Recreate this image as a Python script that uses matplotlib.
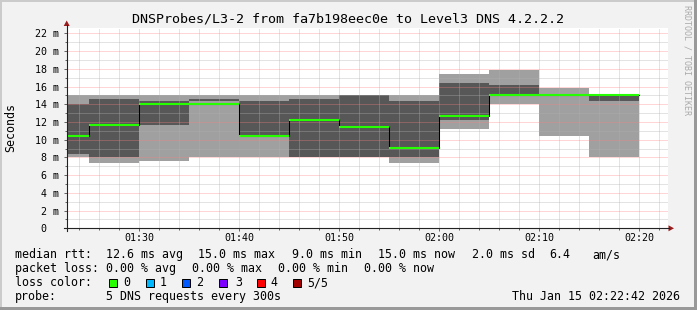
import pandas as pd
import matplotlib
matplotlib.use('Agg')
import matplotlib.pyplot as plt
import matplotlib.dates as mdates
from matplotlib.lines import Line2D
from matplotlib.patches import Rectangle, Polygon
from matplotlib.ticker import MultipleLocator, FuncFormatter

# 5 minute bins, 5 DNS pings per bin (values in ms, sorted pings)
bin_start = ['01:20', '01:25', '01:30', '01:35', '01:40', '01:45',
             '01:50', '01:55', '02:00', '02:05', '02:10', '02:15']
ping_min = [8.1, 7.4, 7.65, 8.1, 8.1, 8.05, 8.05, 7.4, 11.2, 14.0, 10.4, 8.05]
ping_2nd = [8.4, 8.05, 11.65, 14.35, 10.45, 8.05, 8.05, 8.05, 12.2, 15.0, 15.0, 14.35]
ping_median = [10.45, 11.65, 14.05, 14.05, 10.45, 12.25, 11.45, 9.05, 12.65, 15.05, 15.05, 15.05]
ping_4th = [14.0, 14.6, 14.35, 14.6, 14.35, 14.6, 15.0, 14.4, 16.4, 16.15, 15.05, 15.05]
ping_max = [15.0, 15.0, 15.0, 15.0, 15.0, 15.0, 15.0, 15.0, 17.4, 17.85, 15.85, 15.05]

loss_labels = ['0', '1', '2', '3', '4', '5/5']
loss_colors = ['#26ff00', '#00b8ff', '#0059ff', '#7e00ff', '#ff0000', '#a10000']

title = 'DNSProbes/L3-2 from fa7b198eec0e to Level3 DNS 4.2.2.2'
stamp = 'Thu Jan 15 02:22:42 2026'

W, H = 697, 310


def fx(x):
    return x / W


def fy(y):
    return 1 - y / H


def plot_smokeping():
    plt.rcParams['font.family'] = ['DejaVu Sans Mono']

    fig = plt.figure(figsize=(W / 100, H / 100), dpi=100, facecolor='#f2f2f2')
    ax = fig.add_axes([fx(66.7), fy(228.3), (668.3 - 66.7) / W, (228.3 - 27.7) / H])
    ax.set_facecolor('white')

    x = mdates.date2num(pd.to_datetime(['2026-01-15 ' + s for s in bin_start]))
    w = 5 / 1440

    lo = pd.Series(ping_min)
    hi = pd.Series(ping_max)
    p2 = pd.Series(ping_2nd)
    p4 = pd.Series(ping_4th)

    # smoke: outer band min..max, inner band 2nd..4th
    ax.bar(x, hi - lo, width=w, bottom=lo, align='edge', color='#a0a0a0', linewidth=0, zorder=1)
    ax.bar(x, p4 - p2, width=w, bottom=p2, align='edge', color='#575757', linewidth=0, zorder=1.1)

    # median: black step connectors + green segments (0 loss)
    xs = list(x) + [x[-1] + w]
    ys = ping_median + [ping_median[-1]]
    ax.step(xs, ys, where='post', color='black', linewidth=0.75, zorder=3)
    ax.hlines(ping_median, x, x + w, colors=loss_colors[0], linewidth=1.5, zorder=4)

    t0 = mdates.date2num(pd.Timestamp('2026-01-15 01:22:44'))
    t1 = mdates.date2num(pd.Timestamp('2026-01-15 02:22:54'))
    ax.set_xlim(t0, t1)
    ax.set_ylim(0, 22.64)

    ax.xaxis.set_major_locator(mdates.MinuteLocator(byminute=range(0, 60, 10)))
    ax.xaxis.set_minor_locator(mdates.MinuteLocator(byminute=range(0, 60, 2)))
    ax.xaxis.set_major_formatter(mdates.DateFormatter('%H:%M'))
    ax.yaxis.set_major_locator(MultipleLocator(2))
    ax.yaxis.set_minor_locator(MultipleLocator(1))
    ax.yaxis.set_major_formatter(FuncFormatter(
        lambda v, p: '0\u00a0\u00a0' if v == 0 else f'{v:.0f} m'))

    # dotted grid on top of the smoke, like rrdtool
    ax.set_axisbelow(False)
    ax.grid(which='major', color='#ff8080', alpha=0.65, linestyle=(0, (1, 1)), linewidth=0.72)
    ax.grid(which='minor', color='#b0b0b0', alpha=0.7, linestyle=(0, (1, 1)), linewidth=0.72)

    for s in ax.spines.values():
        s.set_visible(False)
    ax.tick_params(which='both', direction='out', color='#666666', labelsize=7.2)
    ax.tick_params(which='major', length=2.2, width=0.72)
    ax.tick_params(which='minor', length=1.5, width=0.72)
    ax.tick_params(axis='x', which='major', pad=1.0)
    ax.tick_params(axis='y', which='major', pad=3.0)

    # axis lines with arrows
    axis_c = '#222222'
    arrow_c = '#9b1c1c'
    fig.add_artist(Line2D([fx(66.7), fx(66.7)], [fy(231), fy(25)], color=axis_c, lw=0.8))
    fig.add_artist(Line2D([fx(63.5), fx(669)], [fy(228.3), fy(228.3)], color=axis_c, lw=0.8))
    fig.add_artist(Polygon([(fx(66.7), fy(20.5)), (fx(63.7), fy(26)), (fx(69.7), fy(26))],
                           closed=True, transform=fig.transFigure, color=arrow_c, lw=0))
    fig.add_artist(Polygon([(fx(674), fy(228.3)), (fx(668.5), fy(225.3)), (fx(668.5), fy(231.3))],
                           closed=True, transform=fig.transFigure, color=arrow_c, lw=0))

    fig.text(fx(347.5), fy(23), title, ha='center', va='baseline', fontsize=9.6)
    fig.text(fx(11), fy(127), 'Seconds', rotation=90, ha='center', va='center', fontsize=8.4)
    fig.text(fx(687), fy(5), 'RRDTOOL / TOBI OETIKER', rotation=270, ha='center', va='top',
             fontsize=6, color='#aaaaaa')

    # legend block
    fs = 8.4
    rows = [
        (258, [(15.3, 'median rtt:'), (106.5, '12.6 ms avg'), (198, '15.0 ms max'),
               (292.5, '9.0 ms min'), (378.3, '15.0 ms now'), (472, '2.0 ms sd'),
               (549.3, '6.4'), (592.5, 'am/s')]),
        (272, [(15.3, 'packet loss:'), (106.5, '0.00 % avg'), (192.5, '0.00 % max'),
               (278.5, '0.00 % min'), (364.5, '0.00 % now')]),
        (286, [(15.3, 'loss color:')]),
        (300, [(15.3, 'probe:'), (106.5, '5 DNS requests every 300s')]),
    ]
    for yb, items in rows:
        for xp, txt in items:
            fig.text(fx(xp), fy(yb), txt, ha='left', va='baseline', fontsize=fs)

    box_x = [108.5, 145.7, 182.3, 219.3, 256.7, 293.3]
    lab_x = [123.3, 160.0, 196.5, 235.3, 270.3, 307.5]
    for bx, lx, lab, col in zip(box_x, lab_x, loss_labels, loss_colors):
        fig.patches.append(Rectangle((fx(bx), fy(287)), 8 / W, 8 / H, transform=fig.transFigure,
                                     facecolor=col, edgecolor='black', linewidth=0.72))
        fig.text(fx(lx), fy(286), lab, ha='left', va='baseline', fontsize=fs)

    fig.text(fx(680.5), fy(300), stamp, ha='right', va='baseline', fontsize=fs)

    # bevel frame
    fig.patches.append(Rectangle((0, fy(2)), 1, 2 / H, transform=fig.transFigure, color='#cbcbcb', lw=0))
    fig.patches.append(Rectangle((0, 0), 2 / W, 1, transform=fig.transFigure, color='#cbcbcb', lw=0))
    fig.patches.append(Rectangle((0, 0), 1, 3 / H, transform=fig.transFigure, color='#999999', lw=0))
    fig.patches.append(Rectangle((fx(694), 0), 3 / W, 1, transform=fig.transFigure, color='#999999', lw=0))

    fig.savefig('out.png', dpi=100, facecolor=fig.get_facecolor())


if __name__ == '__main__':
    plot_smokeping()
